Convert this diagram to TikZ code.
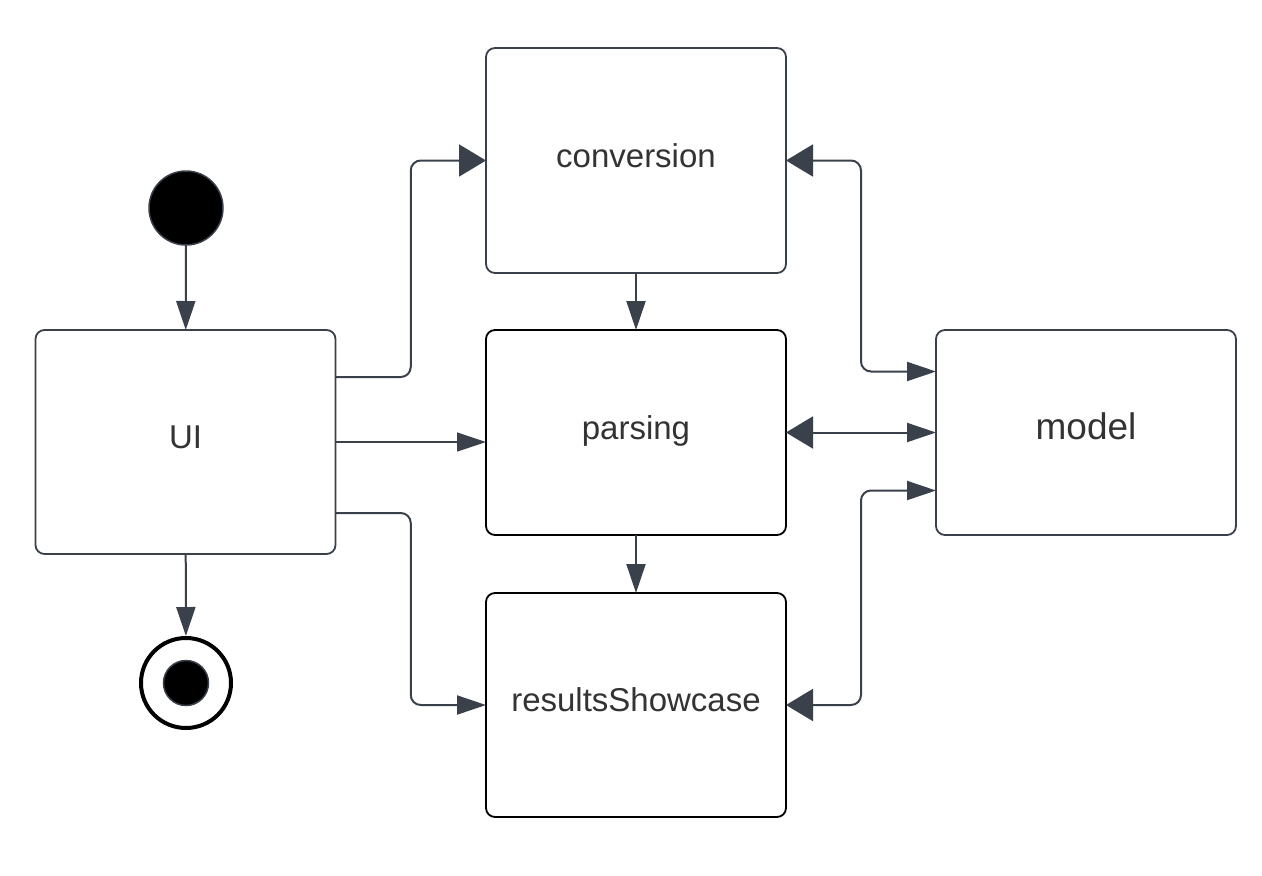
\documentclass[tikz,border=0pt]{standalone}
\usepackage{fontspec}
\setmainfont{Liberation Sans}
\usetikzlibrary{arrows.meta,calc}
\definecolor{conn}{HTML}{3A414B}
\definecolor{txt}{HTML}{333333}
\tikzset{
  box/.style={draw=conn, line width=1.8pt, rounded corners=9pt, fill=white,
    minimum width=300pt, inner sep=0pt, outer sep=0pt, text=txt,
    text height=24pt, text depth=11pt,
    font=\fontsize{33}{40}\selectfont},
  boxk/.style={box, draw=black},
  conn/.style={draw=conn, line width=2pt, rounded corners=10pt},
  thin/.style={draw=conn, line width=1.3pt},
  big/.tip={Triangle[length=27pt,width=32pt]},
  sml/.tip={Triangle[length=29pt,width=19pt]},
}
\begin{document}
\begin{tikzpicture}[x=1pt,y=-1pt]
\useasboundingbox (0,0) rectangle (1262,876);
% nodes
\node[box, minimum height=225pt] (conv) at (636,160.5) {conversion};
\node[boxk, minimum height=205pt] (pars) at (636,432.5) {parsing};
\node[boxk, minimum height=224pt] (res) at (636,705) {resultsShowcase};
\node[box, minimum height=224pt] (ui) at (185.5,442) {UI};
\node[box, minimum height=205pt, font=\fontsize{37}{44}\selectfont] (model) at (1086,432.5) {model};
\node[circle, draw=conn, line width=1.5pt, fill=black, minimum size=74pt, inner sep=0pt, outer sep=0pt] (start) at (186,208) {};
\node[circle, draw=black, line width=4pt, fill=white, minimum size=90pt, inner sep=0pt, outer sep=2pt] (stop) at (186,683) {};
\node[circle, draw=conn, line width=1.5pt, fill=black, minimum size=45pt, inner sep=0pt] (stopin) at (stop) {};
% junctions
\coordinate (jL) at ($(ui.east)!0.5!(pars.west)$);
\coordinate (jR) at ($(pars.east)!0.5!(model.west)$);
\coordinate (uA) at ([yshift=65pt]ui.east);
\coordinate (uC) at ([yshift=-71pt]ui.east);
\coordinate (mA) at ([yshift=61pt]model.west);
\coordinate (mB) at ([yshift=-58pt]model.west);
% connectors
\draw[conn, -{sml}] (start) -- (ui);
\draw[conn, -{sml}] (ui) -- (stop);
\draw[conn, -{big}] (uA) -| (jL |- conv.west) -- (conv.west);
\draw[thin, -{sml}] (ui.east) -- (pars.west |- ui.east);
\draw[conn, -{sml}] (uC) -| (jL |- res.west) -- (res.west);
\draw[conn, -{sml}] (conv) -- (pars);
\draw[conn, -{sml}] (pars) -- (res);
\draw[conn, {big}-{sml}] (conv.east) -| (jR |- mA) -- (mA);
\draw[conn, {big}-{sml}] (pars.east) -- (model.west);
\draw[conn, {big}-{sml}] (res.east) -| (jR |- mB) -- (mB);
\end{tikzpicture}
\end{document}
